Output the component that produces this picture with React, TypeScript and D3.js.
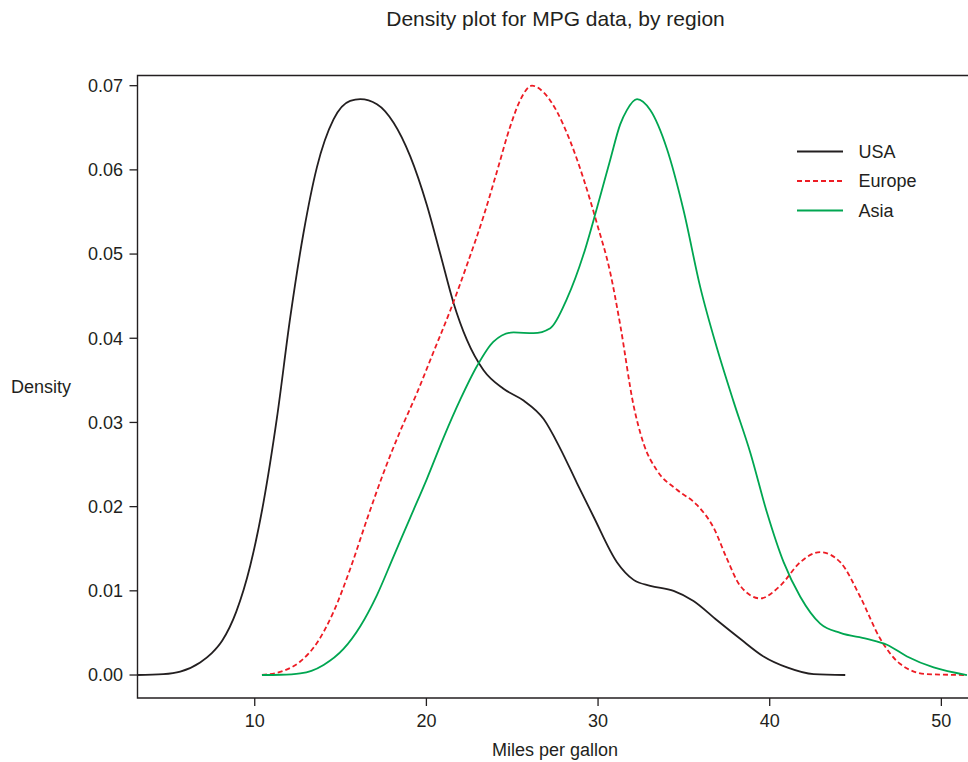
import React from 'react';
import * as d3 from 'd3';

// density estimates (mpg, density)
const usaMpg = [3.15, 4.67, 5.66, 6.82, 7.5, 8.11, 8.92, 9.74, 10.51, 11.29, 12.07, 12.84, 13.62, 14.59, 15.56, 16.15, 17.12, 18.09, 19.06, 20.03, 20.81, 21.58, 22.36, 23.33, 24.49, 25.66, 26.83, 27.8, 28.77, 29.74, 31.1, 32.07, 33.04, 34.4, 35.56, 36.93, 38.28, 39.64, 41.01, 42.56, 44.4];
const usaDensity = [0, 0.0001, 0.0004, 0.0015, 0.0026, 0.0041, 0.0075, 0.013, 0.0205, 0.0305, 0.0425, 0.0525, 0.0603, 0.066, 0.0682, 0.0684, 0.0678, 0.0656, 0.0616, 0.0558, 0.05, 0.0442, 0.0398, 0.0362, 0.034, 0.0326, 0.0304, 0.0269, 0.0228, 0.0188, 0.0134, 0.0113, 0.0106, 0.01, 0.0088, 0.0065, 0.0043, 0.0022, 0.0009, 0.0001, 0];

const europeMpg = [10.42, 11.68, 12.65, 13.62, 14.59, 15.56, 16.54, 17.5, 18.48, 19.45, 20.42, 21.39, 22.36, 23.33, 24.11, 24.89, 25.47, 26.15, 26.83, 27.61, 28.38, 29.16, 29.94, 30.71, 31.29, 32.07, 32.65, 33.43, 34.6, 35.76, 36.73, 37.51, 38.28, 39.45, 40.61, 41.78, 42.94, 44.11, 45.27, 46.44, 47.61, 49.16, 51.49];
const europeDensity = [0, 0.0005, 0.0016, 0.0038, 0.0075, 0.0126, 0.0185, 0.024, 0.029, 0.0335, 0.0384, 0.0433, 0.0487, 0.0545, 0.0598, 0.0652, 0.0683, 0.07, 0.0692, 0.0669, 0.0634, 0.0589, 0.0536, 0.0478, 0.0416, 0.032, 0.0275, 0.0243, 0.022, 0.0202, 0.0175, 0.0138, 0.0106, 0.0091, 0.0106, 0.0134, 0.0146, 0.0134, 0.0093, 0.0043, 0.0013, 0.0001, 0];

const asiaMpg = [10.42, 11.5, 12.65, 13.3, 14.01, 15.17, 16.15, 17.12, 18.09, 19.06, 20.03, 21.0, 21.97, 22.95, 23.91, 25.08, 26.24, 27.22, 28.19, 29.16, 29.94, 30.71, 31.29, 31.68, 32.27, 33.04, 34.01, 34.98, 35.95, 36.93, 37.89, 38.87, 39.84, 40.81, 41.78, 42.94, 44.11, 45.67, 46.83, 48.0, 49.55, 51.49];
const asiaDensity = [0, 0.00003, 0.0002, 0.0005, 0.0012, 0.0031, 0.0058, 0.0095, 0.0141, 0.0187, 0.0233, 0.0282, 0.0327, 0.0367, 0.0396, 0.0407, 0.0406, 0.0412, 0.0447, 0.05, 0.0555, 0.0612, 0.0654, 0.0671, 0.0684, 0.0671, 0.0625, 0.0552, 0.0461, 0.0388, 0.0325, 0.0264, 0.0193, 0.0134, 0.0093, 0.0061, 0.005, 0.0043, 0.0036, 0.0022, 0.0009, 0];

const regions = ['USA', 'Europe', 'Asia'];
const xTicks = [10, 20, 30, 40, 50];
const yTicks = [0, 0.01, 0.02, 0.03, 0.04, 0.05, 0.06, 0.07];

const ink = '#231f20';
const font = '"Liberation Sans", Arial, sans-serif';

export default function App() {
	const width = 968;
	const height = 762;
	const margin = { top: 76, left: 137.5, bottom: 698, right: 986 };

	const x = d3.scaleLinear().domain([3.17, 52.6]).range([margin.left, margin.right]);
	const y = d3.scaleLinear().domain([-0.00273, 0.07115]).range([margin.bottom, margin.top]);

	const series = [
		{ name: regions[0], mpg: usaMpg, dens: usaDensity, color: ink, dash: null },
		{ name: regions[1], mpg: europeMpg, dens: europeDensity, color: '#ed1c24', dash: '5,3' },
		{ name: regions[2], mpg: asiaMpg, dens: asiaDensity, color: '#00a651', dash: null },
	];

	const line = d3
		.line<[number, number]>()
		.x((d) => x(d[0]))
		.y((d) => y(d[1]))
		.curve(d3.curveMonotoneX);

	const fmt = d3.format('.2f');

	return (
		<svg
			width={width}
			height={height}
			style={{ position: 'absolute', left: 0, top: 0, background: '#fff' }}
			fontFamily={font}
		>
			<text x={555.5} y={26} fontSize={21} textAnchor="middle" fill={ink}>
				Density plot for MPG data, by region
			</text>

			{/* frame: the right edge falls outside the picture */}
			<path
				d={`M${margin.right + 20},${margin.top - 0.5}H${margin.left}V${margin.bottom}H${margin.right + 20}`}
				fill="none"
				stroke={ink}
				strokeWidth={1.4}
			/>

			<g className="y-axis">
				{yTicks.map((t) => (
					<g key={t} transform={`translate(0,${y(t)})`}>
						<line x1={margin.left - 8} x2={margin.left} stroke={ink} strokeWidth={1.3} />
						<text x={123} dy="0.35em" fontSize={18} textAnchor="end" fill={ink}>
							{fmt(t)}
						</text>
					</g>
				))}
			</g>

			<g className="x-axis">
				{xTicks.map((t) => (
					<g key={t} transform={`translate(${x(t)},0)`}>
						<line y1={margin.bottom} y2={margin.bottom + 8} stroke={ink} strokeWidth={1.3} />
						<text y={727} fontSize={18} textAnchor="middle" fill={ink}>
							{t}
						</text>
					</g>
				))}
			</g>

			<text x={11} y={393} fontSize={18} fill={ink}>
				Density
			</text>
			<text x={555} y={756} fontSize={18} textAnchor="middle" fill={ink}>
				Miles per gallon
			</text>

			<g className="plot-area" fill="none">
				{series.map((s) => (
					<path
						key={s.name}
						d={line(s.mpg.map((m, i) => [m, s.dens[i]]) as [number, number][]) || ''}
						stroke={s.color}
						strokeWidth={1.8}
						strokeDasharray={s.dash || undefined}
					/>
				))}
			</g>

			<g className="legend">
				{series.map((s, i) => (
					<g key={s.name} transform={`translate(797,${151.5 + i * 29.5})`}>
						<line x1={0} x2={46} stroke={s.color} strokeWidth={1.8} strokeDasharray={s.dash || undefined} />
						<text x={61.5} dy="0.35em" fontSize={18} fill={ink}>
							{s.name}
						</text>
					</g>
				))}
			</g>
		</svg>
	);
}
